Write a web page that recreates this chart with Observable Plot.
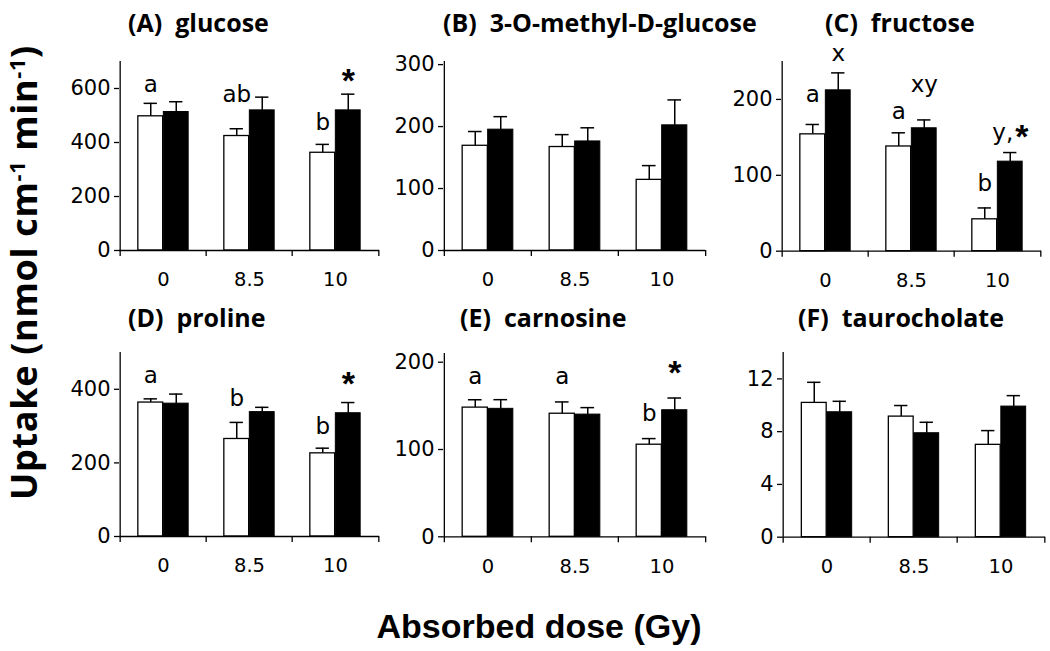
<!DOCTYPE html>
<html>
<head>
<meta charset="utf-8">
<script src="https://cdn.jsdelivr.net/npm/d3@7"></script>
<script src="https://cdn.jsdelivr.net/npm/@observablehq/plot@0.6"></script>
<style>
  html, body { margin: 0; padding: 0; background: #fff; }
  #chart { position: relative; width: 1050px; height: 651px; overflow: hidden; background: #fff; }
  .panel { position: absolute; }
  #chart svg g[aria-label="y-axis tick label"], #chart svg g[aria-label="y-axis tick label"] text { font-size: 21px !important; }
  #chart svg g[aria-label="x-axis tick label"], #chart svg g[aria-label="x-axis tick label"] text { font-size: 19.5px !important; }
  .ttl { position: absolute; font-family: "Open Sans", sans-serif; font-weight: 700; font-size: 25px; line-height: 25px; white-space: pre; color: #000; }
  .xlab { position: absolute; left: 239px; width: 600px; text-align: center; font-family: "Liberation Sans", Arial, sans-serif; font-weight: 700; font-size: 34px; line-height: 34px; top: 609px; color: #000; }
  #ylab { position: absolute; left: 0; top: 0; }
</style>
</head>
<body>
<div id="chart"></div>
<script>
// ---- data ----
const doses = ["0", "8.5", "10"];
const panelTitles = ["(A)  glucose", "(B)  3-O-methyl-D-glucose", "(C)  fructose", "(D)  proline", "(E)  carnosine", "(F)  taurocholate"];

// open (white) bars and filled (black) bars: means and upper error (SEM)
const glucoseOpen = [497, 424, 362];
const glucoseOpenErr = [48, 27, 31];
const glucoseFilled = [513, 519, 519];
const glucoseFilledErr = [38, 49, 60];

const omgOpen = [169, 167, 114];
const omgOpenErr = [23, 20, 23];
const omgFilled = [195, 176, 202];
const omgFilledErr = [21, 22, 41];

const fructoseOpen = [154, 138, 42];
const fructoseOpenErr = [13, 18, 15];
const fructoseFilled = [212, 162, 118];
const fructoseFilledErr = [23, 11, 12];

const prolineOpen = [364, 265, 226];
const prolineOpenErr = [10, 45, 14];
const prolineFilled = [361, 338, 335];
const prolineFilledErr = [26, 13, 29];

const carnosineOpen = [148, 141, 105.5];
const carnosineOpenErr = [9, 13.5, 7];
const carnosineFilled = [146.6, 140, 145];
const carnosineFilledErr = [10.5, 8, 14];

const tauroOpen = [10.18, 9.14, 7.0];
const tauroOpenErr = [1.56, 0.84, 1.08];
const tauroFilled = [9.47, 7.88, 9.9];
const tauroFilledErr = [0.83, 0.83, 0.83];

// y-axis domains and tick values
const yMaxes = [700, 305, 250, 500, 210, 14];
const yTicks = [[0, 200, 400, 600], [0, 100, 200, 300], [0, 100, 200], [0, 200, 400], [0, 100, 200], [0, 4, 8, 12]];

// significance letters (dose, bar, text, height in data units)
const glucoseNotes = [
  {dose: "0", bar: "open", text: "a", y: 613},
  {dose: "8.5", bar: "open", text: "ab", y: 577},
  {dose: "10", bar: "open", text: "b", y: 475},
  {dose: "10", bar: "filled", text: "*", y: 628}
];
const omgNotes = [];
const fructoseNotes = [
  {dose: "0", bar: "filled", text: "x", y: 261},
  {dose: "0", bar: "open", text: "a", y: 206.6},
  {dose: "8.5", bar: "open", text: "a", y: 183.9},
  {dose: "8.5", bar: "filled", text: "xy", y: 219.7},
  {dose: "10", bar: "open", text: "b", y: 88.5},
  {dose: "10", bar: "filled", text: "y,", y: 156},
  {dose: "10", bar: "filled", text: "*", y: 150.5}
];
const prolineNotes = [
  {dose: "0", bar: "open", text: "a", y: 437},
  {dose: "8.5", bar: "open", text: "b", y: 376},
  {dose: "10", bar: "open", text: "b", y: 299.6},
  {dose: "10", bar: "filled", text: "*", y: 414}
];
const carnosineNotes = [
  {dose: "0", bar: "open", text: "a", y: 184},
  {dose: "8.5", bar: "open", text: "a", y: 184},
  {dose: "10", bar: "open", text: "b", y: 141.4},
  {dose: "10", bar: "filled", text: "*", y: 187.4}
];
const tauroNotes = [];

// ---- layout (plot frame in page pixels) ----
const layout = [
  {left: 119, right: 379, top: 61, bottom: 250, tx: 128, ty: 10},
  {left: 443, right: 705, top: 61, bottom: 250, tx: 443, ty: 10},
  {left: 781, right: 1041, top: 61, bottom: 250.7, tx: 825, ty: 10},
  {left: 119, right: 379, top: 352, bottom: 536, tx: 128, ty: 305},
  {left: 443, right: 705, top: 352.7, bottom: 536, tx: 460, ty: 305},
  {left: 782, right: 1045, top: 352, bottom: 536.7, tx: 798, ty: 305}
];

const panelData = [
  [glucoseOpen, glucoseOpenErr, glucoseFilled, glucoseFilledErr, glucoseNotes],
  [omgOpen, omgOpenErr, omgFilled, omgFilledErr, omgNotes],
  [fructoseOpen, fructoseOpenErr, fructoseFilled, fructoseFilledErr, fructoseNotes],
  [prolineOpen, prolineOpenErr, prolineFilled, prolineFilledErr, prolineNotes],
  [carnosineOpen, carnosineOpenErr, carnosineFilled, carnosineFilledErr, carnosineNotes],
  [tauroOpen, tauroOpenErr, tauroFilled, tauroFilledErr, tauroNotes]
];

const chart = document.getElementById("chart");

function makePanel(i) {
  const [open, openErr, filled, filledErr, notes] = panelData[i];
  const L = layout[i];
  const yMax = yMaxes[i];
  const mL = 62, mR = 8, mT = 32, mB = 50;
  const w = L.right - L.left, h = L.bottom - L.top;
  const bw = w / 3, half = bw / 2, barW = 25.5, off = barW / 2, cap = 7;

  const openRows = doses.map((d, k) => ({dose: d, v: open[k], e: open[k] + openErr[k]}));
  const filledRows = doses.map((d, k) => ({dose: d, v: filled[k], e: filled[k] + filledErr[k]}));

  const noteMarks = [];
  for (const n of notes) {
    const dx = n.bar === "open" ? -off : off;
    if (n.text === "*") {
      const combined = notes.some(m => m.dose === n.dose && m.bar === n.bar && m.text.endsWith(","));
      noteMarks.push(Plot.text([n], {x: "dose", y: "y", text: "text", dx: combined ? dx + 5 : dx,
        textAnchor: combined ? "start" : "middle",
        fontFamily: "Liberation Sans, Arial, sans-serif", fontWeight: "bold", fontSize: 34, fill: "black"}));
    } else if (n.text.endsWith(",")) {
      noteMarks.push(Plot.text([n], {x: "dose", y: "y", text: "text", dx: dx + 3, textAnchor: "end",
        fontFamily: "DejaVu Sans, sans-serif", fontSize: 23, fill: "black"}));
    } else {
      noteMarks.push(Plot.text([n], {x: "dose", y: "y", text: "text", dx,
        fontFamily: "DejaVu Sans, sans-serif", fontSize: 23, fill: "black"}));
    }
  }

  const svg = Plot.plot({
    width: w + mL + mR,
    height: h + mT + mB,
    marginLeft: mL, marginRight: mR, marginTop: mT, marginBottom: mB,
    style: {background: "transparent", fontFamily: "DejaVu Sans, sans-serif", fontSize: "18px", color: "#000", overflow: "visible"},
    x: {type: "band", domain: doses, padding: 0},
    y: {domain: [0, yMax]},
    marks: [
      Plot.ruleX(openRows, {x: "dose", y1: "v", y2: "e", dx: -off, strokeWidth: 1.5, stroke: "black"}),
      Plot.ruleX(filledRows, {x: "dose", y1: "v", y2: "e", dx: off, strokeWidth: 1.5, stroke: "black"}),
      Plot.tickY(openRows, {x: "dose", y: "e", insetLeft: half - off - cap, insetRight: half + off - cap, strokeWidth: 1.5, stroke: "black"}),
      Plot.tickY(filledRows, {x: "dose", y: "e", insetLeft: half + off - cap, insetRight: half - off - cap, strokeWidth: 1.5, stroke: "black"}),
      Plot.barY(openRows, {x: "dose", y: "v", fill: "white", stroke: "black", strokeWidth: 1.3, insetLeft: half - barW, insetRight: half}),
      Plot.barY(filledRows, {x: "dose", y: "v", fill: "black", stroke: "black", strokeWidth: 1, insetLeft: half, insetRight: half - barW}),
      Plot.ruleY([0], {stroke: "black", strokeWidth: 1.3}),
      Plot.ruleX([doses[0]], {x: d => d, dx: -half, y1: 0, y2: yMax, stroke: "black", strokeWidth: 1.3}),
      Plot.ruleX(doses, {x: d => d, dx: -half, y1: 0, y2: 0, insetBottom: -6, stroke: "black", strokeWidth: 1.3}),
      Plot.ruleX([doses[2]], {x: d => d, dx: half, y1: 0, y2: 0, insetBottom: -6, stroke: "black", strokeWidth: 1.3}),
      Plot.axisY({ticks: yTicks[i], tickSize: 5, tickPadding: 4, tickFormat: d => String(d), label: null, stroke: "black", strokeWidth: 1.3}),
      Plot.axisX({tickSize: 0, tickPadding: 22, label: null}),
      ...noteMarks
    ]
  });
  svg.classList.add("panel");
  svg.style.left = (L.left - mL) + "px";
  svg.style.top = (L.top - mT) + "px";
  chart.appendChild(svg);

  const t = document.createElement("div");
  t.className = "ttl";
  t.textContent = panelTitles[i];
  t.style.left = L.tx + "px";
  t.style.top = L.ty + "px";
  chart.appendChild(t);
}

for (let i = 0; i < 6; i++) makePanel(i);

// shared y-axis title (rotated SVG text with superscripts)
const ySvg = d3.create("svg").attr("id", "ylab").attr("width", 60).attr("height", 651);
const yText = ySvg.append("text")
  .attr("transform", "translate(37.3,272.5) rotate(-90)")
  .attr("text-anchor", "middle")
  .attr("font-family", "Open Sans, sans-serif")
  .attr("font-weight", 700)
  .attr("font-size", 36)
  .attr("letter-spacing", 0.7)
  .attr("fill", "black");
yText.append("tspan").text("Uptake (nmol cm");
yText.append("tspan").attr("font-size", 21.6).attr("dy", -12).text("-1");
yText.append("tspan").attr("dy", 12).text(" min");
yText.append("tspan").attr("font-size", 21.6).attr("dy", -12).text("-1");
yText.append("tspan").attr("dy", 12).text(")");
chart.appendChild(ySvg.node());

const xl = document.createElement("div");
xl.className = "xlab";
xl.textContent = "Absorbed dose (Gy)";
chart.appendChild(xl);
</script>
</body>
</html>
